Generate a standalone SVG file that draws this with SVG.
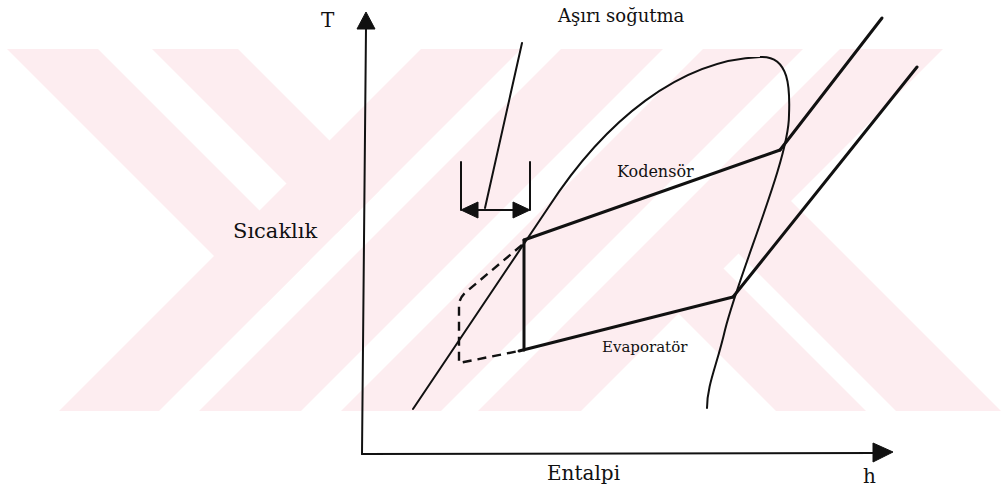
<svg xmlns="http://www.w3.org/2000/svg" width="1004" height="489" viewBox="0 0 1004 489">
  <style>
    .wm { fill: #fdedf0; stroke: none; }
    text { fill: #111; }
    .ln { fill: none; stroke: #111; stroke-linecap: round; stroke-linejoin: round; }
    .axis { stroke-width: 2; }
    .thin { stroke-width: 2; }
    .thick { stroke-width: 3; }
    .dash { stroke-width: 2.4; stroke-dasharray: 9 6; stroke-linecap: butt; }
    .head { fill: #111; stroke: #111; stroke-width: 1; stroke-linejoin: round; }
  </style>
  <defs>
    <clipPath id="wmclip">
      <rect x="0" y="49" width="1004" height="362"/>
    </clipPath>
  </defs>
  <rect x="0" y="0" width="1004" height="489" fill="#ffffff"/>
  <g id="watermark" clip-path="url(#wmclip)">
    <polygon class="wm" points="-42,0 49,0 309.5,260.5 264,306"/>
    <polygon class="wm" points="103,0 189,0 379.5,190.5 336.5,233.5"/>
    <polygon class="wm" points="470,0 570,0 81,489 -19,489"/>
    <polygon class="wm" points="610,0 712,0 223,489 121,489"/>
    <polygon class="wm" points="752,0 852,0 363,489 263,489"/>
    <polygon class="wm" points="889,0 992,0 503,489 400,489"/>
    <polygon class="wm" points="677.5,312.5 722.5,267.5 944,489 854,489"/>
    <polygon class="wm" points="737.5,252.5 790,200 1079,489 974,489"/>
  </g>
  <g id="axes">
    <line class="ln axis" x1="366" y1="28" x2="362" y2="454"/>
    <polygon class="head" points="366,12 357,29 375,29"/>
    <line class="ln axis" x1="362" y1="454" x2="875" y2="453"/>
    <polygon class="head" points="893,452 873,443 873,462"/>
  </g>
  <g id="dome">
    <path class="ln thin" d="M413,409 L548,208 C605,120 680,60 760,57 C790,55 790,90 789,115 C789,160 740,270 725,330 C717,365 707,385 707,408"/>
  </g>
  <g id="connectors">
    <line class="ln thick" x1="524" y1="240" x2="780" y2="150"/>
    <line class="ln thick" x1="524" y1="240" x2="524" y2="350"/>
    <line class="ln thick" x1="519" y1="351" x2="733" y2="297"/>
    <line class="ln thick" x1="780" y1="150" x2="882" y2="18"/>
    <line class="ln thick" x1="733" y1="297" x2="917" y2="67"/>
    <path class="ln dash" d="M522,245 L466,292 Q459,298 459,306 L459,363 L519,351"/>
  </g>
  <g id="subcooling">
    <line class="ln thin" x1="461" y1="162" x2="461" y2="210"/>
    <line class="ln thin" x1="530" y1="162" x2="530" y2="210"/>
    <line class="ln thin" x1="476" y1="210" x2="515" y2="210"/>
    <polygon class="head" points="461,210 478,202 478,218"/>
    <polygon class="head" points="530,210 513,202 513,218"/>
    <line class="ln thin" x1="522" y1="43" x2="485" y2="208"/>
  </g>
  <g id="labels" font-family="'DejaVu Serif', 'Liberation Serif', serif">
    <text x="321" y="27" font-size="20">T</text>
    <text x="233" y="238" font-size="21">Sıcaklık</text>
    <text x="558" y="22" font-size="18">Aşırı soğutma</text>
    <text x="617" y="177" font-size="16">Kodensör</text>
    <text x="602" y="352" font-size="15">Evaporatör</text>
    <text x="547" y="480" font-size="20">Entalpi</text>
    <text x="863" y="483" font-size="20">h</text>
  </g>
</svg>
